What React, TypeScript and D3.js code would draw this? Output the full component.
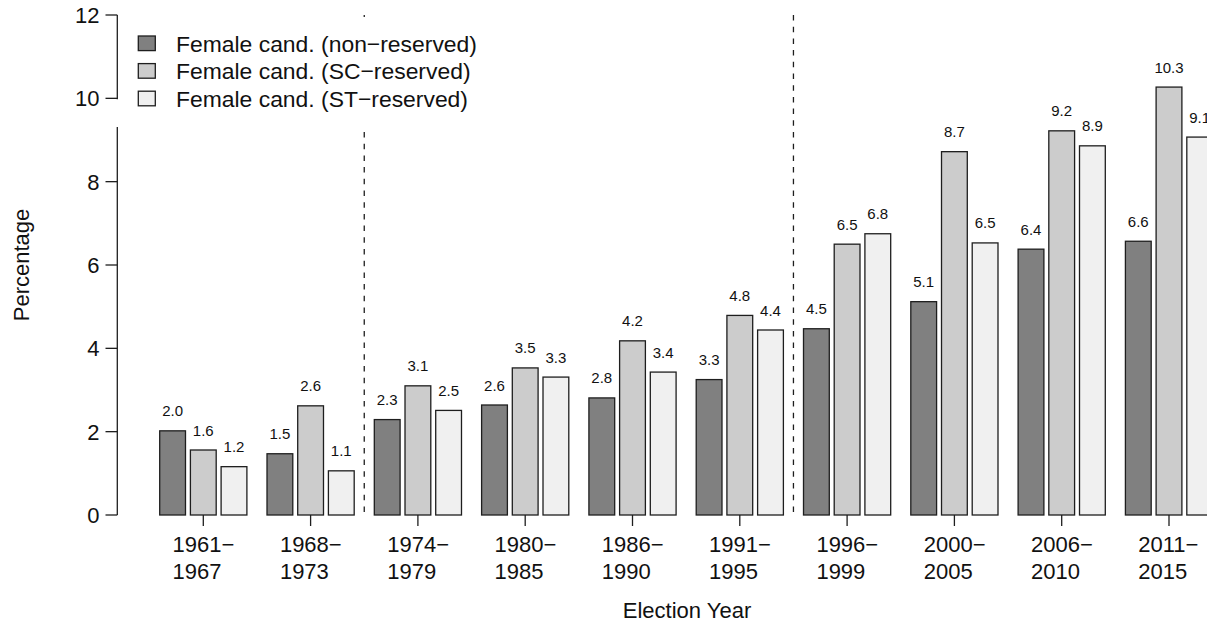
import React from "react";
import * as d3 from "d3";

const periods = ["1961", "1968", "1974", "1980", "1986", "1991", "1996", "2000", "2006", "2011"];
const periodEnds = ["1967", "1973", "1979", "1985", "1990", "1995", "1999", "2005", "2010", "2015"];
const nonReserved = [2.02, 1.47, 2.29, 2.64, 2.81, 3.25, 4.47, 5.12, 6.38, 6.57];
const scReserved = [1.56, 2.62, 3.1, 3.53, 4.18, 4.79, 6.5, 8.72, 9.22, 10.27];
const stReserved = [1.16, 1.06, 2.51, 3.31, 3.43, 4.44, 6.75, 6.53, 8.86, 9.07];
const seriesNames = [
  "Female cand. (non\u2212reserved)",
  "Female cand. (SC\u2212reserved)",
  "Female cand. (ST\u2212reserved)",
];
const seriesColors = ["#808080", "#cccccc", "#f0f0f0"];
const yTicks = [0, 2, 4, 6, 8, 10, 12];
const dividerAfter = [1, 5];

const FONT = "'Liberation Sans', Arial, Helvetica, sans-serif";

export default function App() {
  const W = 1207;
  const H = 623;
  const series = [nonReserved, scReserved, stReserved];
  const step = 107.3;
  const x0Start = 149.65;
  const x0 = d3
    .scaleBand<string>()
    .domain(periods)
    .range([x0Start, x0Start + step * periods.length])
    .padding(0);
  const x1 = d3
    .scaleBand<number>()
    .domain([0, 1, 2])
    .range([0, x0.bandwidth()])
    .paddingInner(0.16)
    .paddingOuter(0.3275);
  const y = d3.scaleLinear().domain([0, 12]).range([515, 15]);
  const fmt = d3.format(".1f");
  const axisX = 117.3;
  const stroke = "#1e1e1e";

  return (
    <svg
      width={W}
      height={H}
      style={{ position: "absolute", left: 0, top: 0, background: "#fff" }}
      fontFamily={FONT}
    >
      <rect x={0} y={0} width={W} height={H} fill="#fff" />
      {/* bars */}
      {periods.map((p, i) => (
        <g key={p}>
          {series.map((s, j) => {
            const bx = (x0(p) as number) + (x1(j) as number);
            const by = y(s[i]);
            return (
              <g key={j}>
                <rect
                  x={bx}
                  y={by}
                  width={x1.bandwidth()}
                  height={y(0) - by}
                  fill={seriesColors[j]}
                  stroke={stroke}
                  strokeWidth={1.3}
                />
                <text
                  x={bx + x1.bandwidth() / 2}
                  y={by - 14.5}
                  fontSize={15}
                  textAnchor="middle"
                  fill="#111"
                >
                  {fmt(s[i])}
                </text>
              </g>
            );
          })}
        </g>
      ))}
      {/* dashed dividers */}
      {dividerAfter.map((k) => {
        const dx = (x0(periods[k]) as number) + x0.bandwidth();
        return (
          <line
            key={k}
            x1={dx}
            x2={dx}
            y1={y(12)}
            y2={y(0)}
            stroke={stroke}
            strokeWidth={1.3}
            strokeDasharray="5.5 6.2"
          />
        );
      })}
      {/* legend */}
      <rect x={118.5} y={17} width={372} height={110} fill="#fff" />
      {seriesNames.map((n, j) => {
        const cy = 43.3 + j * 27.6;
        return (
          <g key={n}>
            <rect
              x={138.3}
              y={cy - 7.3}
              width={17}
              height={14.6}
              fill={seriesColors[j]}
              stroke={stroke}
              strokeWidth={1.3}
            />
            <text x={176} y={cy} dy="0.36em" fontSize={22.9} fill="#111">
              {n}
            </text>
          </g>
        );
      })}
      {/* y axis */}
      <line x1={axisX} x2={axisX} y1={y(12)} y2={y(10) + 1} stroke={stroke} strokeWidth={1.3} />
      <line x1={axisX} x2={axisX} y1={127} y2={y(0)} stroke={stroke} strokeWidth={1.3} />
      {yTicks.map((t) => (
        <g key={t}>
          <line x1={105.5} x2={axisX} y1={y(t)} y2={y(t)} stroke={stroke} strokeWidth={1.3} />
          <text x={99.5} y={y(t)} dy="0.36em" fontSize={22} textAnchor="end" fill="#111">
            {t}
          </text>
        </g>
      ))}
      {/* x axis ticks and labels */}
      {periods.map((p, i) => {
        const cx = (x0(p) as number) + x0.bandwidth() / 2;
        return (
          <g key={p}>
            <line x1={cx} x2={cx} y1={y(0)} y2={526} stroke={stroke} strokeWidth={1.3} />
            <text x={cx - 30.7} y={551.7} fontSize={22} fill="#111">
              {p + "\u2212"}
            </text>
            <text x={cx - 30.7} y={579} fontSize={22} fill="#111">
              {periodEnds[i]}
            </text>
          </g>
        );
      })}
      {/* axis titles */}
      <text x={687} y={618} fontSize={22} textAnchor="middle" fill="#111">
        Election Year
      </text>
      <text
        transform={`translate(28.5,265) rotate(-90)`}
        fontSize={22}
        textAnchor="middle"
        fill="#111"
      >
        Percentage
      </text>
    </svg>
  );
}
